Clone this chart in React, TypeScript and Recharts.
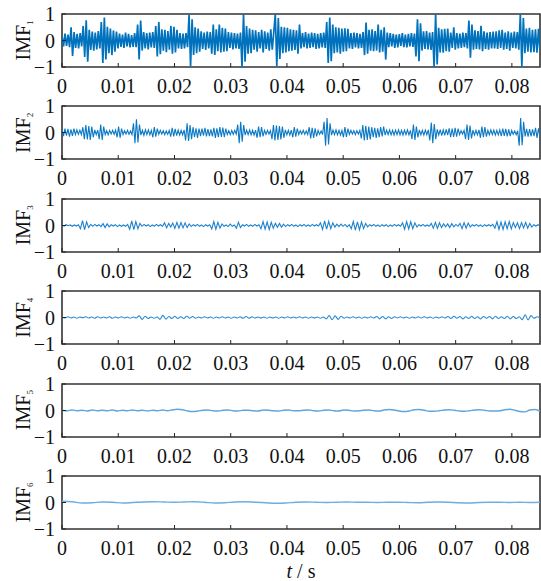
import React from "react"
import {
  LineChart,
  Line,
  XAxis,
  YAxis,
  ReferenceArea,
} from "recharts"

// signal values in hundredths
const imf1 = [
  18, -22, 26, -20, 22, -25, 50, -58, 32, -28, 25, -30, 28, -22, 55, -62, 76, -80,
  40, -36, 34, -38, 30, -34, 36, -30, 70, -85, 87, -72, 52, -48, 45, -55, 38, -42, 34, -30,
  26, -24, 22, -28, 30, -22, 25, -26, 20, -24, 28, -25, 60, -72, 75,
  -38, 32, -30, 28, -34, 30, -26, 32, -28, 55, -60, 70, -52, 42, -38, 40, -44, 36, -35,
  55, -50, 52, -45, 40, -30, 28, -32, 26, -30, 28, -25, 98, -97, 80,
  -55, 50, -48, 45, -42, 35, -32, 30, -36, 34, -30, 32, -50, 60, -55,
  42, -40, 60, -45, 48, -42, 45, -40, 32, -28, 30, -34, 28, -30, 26, -32, 30,
  -100, 100, -80, 55, -50, 45, -48, 40,
  -35, 38, -42, 32, -30, 40, -45, 35, -32, 30, -38, 42, -35, 30, 100, -97, 85, -70,
  52, -48, 50, -45, 48, -40, 42, -38, 40, -36, 38, -50, 60,
  -30, 28, -25, 32, -30, 26, -28, 30, -25, 28, -32, 25, -30, 28, -26, 30, -28,
  70, -85, 87, -78, 60, -48, 50, -45, 48, -50, 45, -42, 46, -40, 44,
  -30, 28, -32, 30, -26, 28, -30, 25, -28, 32, -55, 68, -50,
  40, -38, 42, -40, 36, -38, 60, -45, 40, -42, 50, -72,
  30, -25, 28, -22, 25, -28, 22, -26, 24, -20, 28, -25, 22, -26, 25, -22, 28, -24, 26,
  -60, 80, -78, 65, -38, 35, -32, 36, -34, 30, -36, 32, -100, 100, -90,
  48, -45, 42, -46, 44, -40, 45, -42, 30, -28, 50, -35, 28, -30, 26, -28, 30, -25, 28, -30,
  75, -65, 60, -35, 38, -32, 36, -34, 55, -40, 35, -32, 30, -35, 32, -30, 34,
  -30, 35, -32, 38, -28, 40, -35, 30, -32, 35, -38, 30, -28, 34, -30, 32, -35,
  100, -100, 85, -48, 45, -42, 48, -45, 40, -44, 42, -46, 44, -40,
]

const imf2 = [
  12, -14, 15, -12, 14, -16, 12, -13, 15, -8, 10, -7, 9, -8,
  20, -25, 28, -26, 24, -28, 22, -18, 10, -8, 9, -25, 30, -28, 22,
  -8, 7, -9, 8, -6, 8, -7, 9, -18, 22, -20, 15, -8, 7, -6, 8, -7, 6, -8,
  35, -40, 50, -38, 30, -10, 9, -11, 10, -8, 10, -9, 8, -18, 20, -16, 15,
  -7, 8, -6, 7, -8, 6, -7, 8, -16, 18, -15, 14, -12, 9, -10, 8, -9, 10,
  -30, 35, -32, 28, -25, 20, -18, 16, -20, 15,
  -14, 15, -12, 18, -15, 13, -14, 12, -15, 18, -20, 16, -18, 20, -17, 19, -18, 15,
  -8, 7, -9, 8, -7, 8, -6, 30, -40, 40, -35, 28,
  -10, 9, -8, 10, -9, 8, -10, 9, -20, 22, -18, 20, -15, 8, -7, 8, -6, 7,
  -25, 28, -30, 26, -28, 24, -26, 22, -20, 10, -9, 8, -10, 9, -18, 20, -16, 15,
  -8, 7, -6, 8, -7, 6, -8, 20, -22, 18, -20, 16, -15, 8, -7, 6, -8,
  40, -50, 55, -45, 35, -10, 9, -8, 10, -9, 8, -10, 8, -18, 20, -17, 15,
  -7, 8, -6, 7, -8, 7, -6, 8, -22, 28, -30, 25, -28, 22, -26, 20, -18,
  18, -20, 16, -18, 20, -15, 22,
  -10, 9, -8, 10, -9, 8, -10, 9, -8, 10, -9, 8, -10, 9, -8, 10, -9, 8,
  -25, 30, -28, 22, -18, 10, -9, 8, -10, 9, -8, 10, -30, 38, -40, 32, -25,
  12, -10, 11, -12, 10, -11, 12, -10, 16, -18, 15, -17, 18, -16, 15, -8, 7, -6, 8,
  -25, 30, -28, 26, -22, 9, -10, 8, -9, 10, -20, 22, -18, 20, -16,
  8, -9, 10, -8, 9, -10, 8, -9, 10, -14, 15, -13, 14, -15, 12, -14, 8, -7, 6, -8, 7,
  -50, 55, -48, 40, -15, 14, -16, 13, -15, 12, -14, 18, -20, 16, -18,
]

const imf3 = [
  2, -2, 3, -1, 2, -3, 2, -2, 3, -12, 18, -16, 14, -8, 4, -3, 4, -2, 3, -4,
  7, -8, 6, -5, 3, -2, 3, -4, 2, -3, 2, -3, 4, -14, 17, -16, 15, -12, 8,
  -3, 4, -2, 3, -4, 2, -3, 4, -2, 3, -3, 10, -9, 8, -6,
  9, -11, 12, -10, 11, -9, 10, -8, 6, -4, 3, -2, 4, -3, 2, -4, 3, -2, 3,
  -13, 15, -14, 12, -10, 6, -3, 2, -4, 5, -3, 2, -10, 12, -8,
  3, -2, 4, -3, 2, -3, 4, -2, 3, -12, 15, -14, 13, -15, 12, -10, 8, -7, 8, -6, 5, -4,
  3, -2, 4, -3, 2, -4, 3, -2, 4, -3, 2, -3, 4, -2, 3, -2,
  10, -15, 17, -14, 16, -12, 10, -6, 5, -4, 5, -3, 4, -5, 3,
  -12, 15, -17, 14, -16, 13, -12, 8, -5,
  3, -2, 4, -3, 2, -4, 3, -2, 3, -4, 2, -3, 4, -2, 3, -3,
  10, -14, 15, -13, 14, -12, 10, -6, 3, -2, 4, -3, 2, -3,
  8, -10, 12, -11, 10, -8, 6, -5, 6, -8, 7, -5, 4, -3, 8, -12, 11, -10, 9, -6,
  3, -2, 4, -3, 2, -4, 3, -2, 3, -2, 4,
  -10, 14, -15, 13, -15, 14, -12, 15, -13, 11, -8, 10, -12, 11, -9, 12, -10, 8, -6,
  3, -2, 3, -2,
]

const imf4 = [
  2, -2, 3, -2, 2, -3, 2, -1, 3, -2, 2, -3, 3, -2, 2, -2, 3, -3, 2, -2, 3, -2, 2, -3, 2, -2,
  6, -7, 5, -4, 2, -3, 2, -7, 8, -6, 4, -4, 5, -4, 3, -4, 5, -3, 4, -3, 2,
  -2, 3, -2, 2, -3, 2, -2, 3, -2, 2, -3, 2, -2, 3, -3, 4, -3, 3, -2, 2,
  -2, 2, -3, 2, -2, 2, -3, 2, -2, 3, -2, 2, -2, 3, -2, 2, -3, 2, -2, 2, -3, 2,
  -5, 7, -8, 6, -7, 5, -3, 2, -2, 3, -2, 2, -3, 2, -2, 3, -2, 4, -5, 4, -5, 3, -4, 3,
  -2, 3, -2, 2, -3, 2, -2, 3, -2, 3, -2, 2, -3, 2, -2, 3, -2,
  4, -4, 5, -3, 4, -5, 3, -4, 5, -4, 3, -5, 4, -3, 4, -5, 5, -4, 3, -4, 5, -5, 4, -4, 3,
  -8, 10, -9, 7, -3, 3, -2,
]

const imf5 = [
  1, -1, 2, -1, 1, -2, 2, -1, 1, -1, 2, -2, 1, -1, 2, -1, 1, -2, 1, -1,
  2, -1, 3, 5, 3, -2, -4, -2,
  1, 2, -1, -2, 1, 2, -1, -2, 1, 1, -1, -2, 2, 1, -1, -2, 1, 2, -1, -1,
  1, 2, -1, -2, 1, 2, -1, -2, 2, 1, -2, -1, 1, 2, -1, -2,
  2, 4, 2, -2, -4, -2, 3, 4, 1, -3, -3, -1,
  2, 3, 1, -2, -3, -1, 2, 3, 1, -2, -2, -1,
  3, 5, 1, -4, -5, 2, 4, -2,
]

const imf6 = [
  5, 3, -2, -1, 2, 1, -2, 0, 2, 3, 2, 1, 2, 3, 1, -2, -1, 2, 3, 1, -1, -3, -2, 1,
  2, 1, 0, 1, 2, 1, 1, 0, 1, 1, 0, -1, 1, 2, 1, -1, -2, 0, 1, 1, 0, 1, 0, 1,
]

const series = [imf1, imf2, imf3, imf4, imf5, imf6]
const seriesColors = ["#0072BD", "#0a78c4", "#1f82cc", "#2c8ad2", "#5ea6de", "#6aaee2"]
const seriesWidths = [1.7, 1.1, 1.1, 1.1, 1.4, 1.4]
const seriesCurves = ["linear", "linear", "linear", "monotone", "monotone", "monotone"]

const xTicks = [0, 0.01, 0.02, 0.03, 0.04, 0.05, 0.06, 0.07, 0.08]
const yTicks = [-1, 0, 1]
const X_MAX = 0.085

const FONT = "'Liberation Serif', 'Times New Roman', serif"
const PANEL_TOP = 14
const PANEL_STEP = 92.4
const PLOT_H = 53
const TOP_PAD = 12

const toRows = (vals: number[]) =>
  vals.map((v, i) => ({ t: (i * X_MAX) / (vals.length - 1), v: v / 100 }))

const fmtY = (v: number) => (v < 0 ? "\u2212" + Math.abs(v) : String(v))
const fmtX = (v: number) => (v === 0 ? "0" : v.toFixed(2))

function Panel({ idx }: { idx: number }) {
  const data = toRows(series[idx])
  const tickStyle = { fontSize: 20, fontFamily: FONT, fill: "#111" }
  return (
    <div style={{ position: "absolute", left: 0, top: PANEL_TOP + idx * PANEL_STEP - TOP_PAD }}>
      <LineChart
        width={541}
        height={TOP_PAD + PLOT_H + 36}
        data={data}
        margin={{ top: TOP_PAD, right: 1, left: 27, bottom: 0 }}
      >
        <XAxis
          dataKey="t"
          type="number"
          domain={[0, X_MAX]}
          ticks={xTicks}
          tickFormatter={fmtX}
          allowDataOverflow
          axisLine={false}
          tickLine={{ stroke: "#222" }}
          tickSize={-4}
          tickMargin={16}
          tick={tickStyle}
          height={36}
          interval={0}
        />
        <YAxis
          type="number"
          domain={[-1, 1]}
          ticks={yTicks}
          tickFormatter={fmtY}
          allowDataOverflow
          axisLine={false}
          tickLine={{ stroke: "#222" }}
          tickSize={-4}
          tickMargin={11}
          tick={tickStyle}
          width={35}
          interval={0}
        />
        <Line
          dataKey="v"
          type={seriesCurves[idx] as any}
          stroke={seriesColors[idx]}
          strokeWidth={seriesWidths[idx]}
          dot={false}
          isAnimationActive={false}
        />
        <ReferenceArea x1={0} x2={X_MAX} y1={-1} y2={1} fill="none" stroke="#333" strokeWidth={1.6} ifOverflow="visible" />
      </LineChart>
    </div>
  )
}

export default function App() {
  return (
    <div style={{ position: "absolute", left: 0, top: 0, width: 541, height: 581, background: "#fff" }}>
      {series.map((_, i) => (
        <Panel key={i} idx={i} />
      ))}
      <svg width={541} height={581} style={{ position: "absolute", left: 0, top: 0, pointerEvents: "none" }}>
        {series.map((_, i) => {
          const cy = PANEL_TOP + i * PANEL_STEP + PLOT_H / 2
          return (
            <text
              key={i}
              transform={`translate(30, ${cy}) rotate(-90)`}
              textAnchor="middle"
              fontFamily={FONT}
              fontSize={20}
              fill="#111"
            >
              IMF
              <tspan fontSize={9} dy={3}>
                {i + 1}
              </tspan>
            </text>
          )
        })}
        <text x={301} y={578} textAnchor="middle" fontFamily={FONT} fontSize={20} fill="#111">
          <tspan fontStyle="italic">t</tspan> / s
        </text>
      </svg>
    </div>
  )
}
